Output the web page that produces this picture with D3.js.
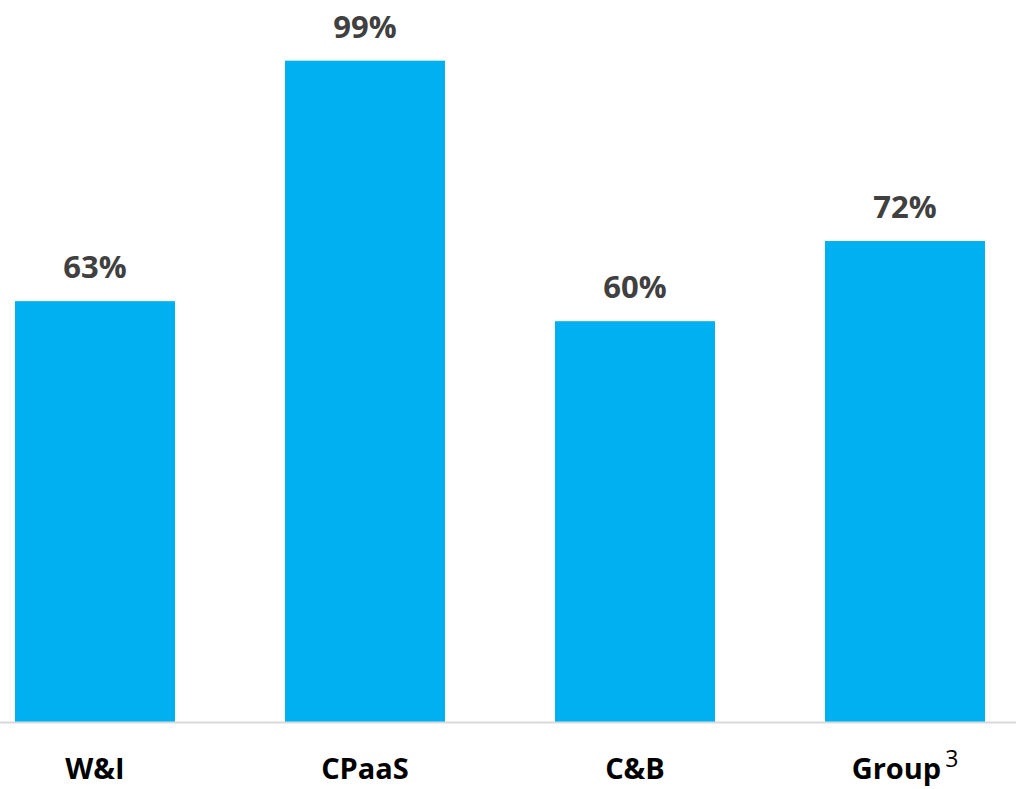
<!DOCTYPE html>
<html>
<head>
<meta charset="utf-8">
<script src="https://cdn.jsdelivr.net/npm/d3@7"></script>
<style>
  html, body { margin: 0; padding: 0; background: #ffffff; }
  svg { display: block; }
  text { font-family: "Open Sans", "Noto Sans", sans-serif; }
</style>
</head>
<body>
<svg id="chart" width="1016" height="789"></svg>
<script>
// Segment names and their values (percent)
const categories = ["W&I", "CPaaS", "C&B", "Group"];
const values = [63, 99, 60, 72];
// Footnote markers attached to category labels
const footnotes = ["", "", "", "3"];

const svg = d3.select("#chart");
const width = 1016, baseline = 722;

const x = d3.scaleBand()
  .domain(categories)
  .range([-40, 1040])
  .paddingInner(110 / 270)
  .paddingOuter(55 / 270);

const y = d3.scaleLinear()
  .domain([0, 100])
  .range([baseline, baseline - 668]);

// Bars
svg.append("g")
  .selectAll("rect")
  .data(categories)
  .join("rect")
  .attr("x", d => x(d))
  .attr("width", x.bandwidth())
  .attr("y", (d, i) => y(values[i]))
  .attr("height", (d, i) => y(0) - y(values[i]))
  .attr("fill", "#00B0F0");

// Category axis line
svg.append("line")
  .attr("x1", 0).attr("x2", width)
  .attr("y1", baseline + 0.5).attr("y2", baseline + 0.5)
  .attr("stroke", "#d9d9d9")
  .attr("stroke-width", 2);

// Value labels
svg.append("g")
  .selectAll("text")
  .data(categories)
  .join("text")
  .attr("x", d => x(d) + x.bandwidth() / 2)
  .attr("y", (d, i) => y(values[i]) - 23)
  .attr("text-anchor", "middle")
  .attr("font-size", 31)
  .attr("font-weight", 700)
  .attr("fill", "#404040")
  .text((d, i) => values[i] + "%");

// Category labels with optional superscript footnote
const cat = svg.append("g")
  .selectAll("text")
  .data(categories)
  .join("text")
  .attr("x", d => x(d) + x.bandwidth() / 2)
  .attr("y", 779)
  .attr("text-anchor", "middle")
  .attr("font-size", 29)
  .attr("font-weight", 700)
  .attr("fill", "#000000");

cat.append("tspan").text(d => d);
cat.filter((d, i) => footnotes[i])
  .append("tspan")
  .attr("dx", 4)
  .attr("dy", -12)
  .attr("font-size", 23)
  .attr("font-weight", 400)
  .text(d => footnotes[categories.indexOf(d)]);
</script>
</body>
</html>
